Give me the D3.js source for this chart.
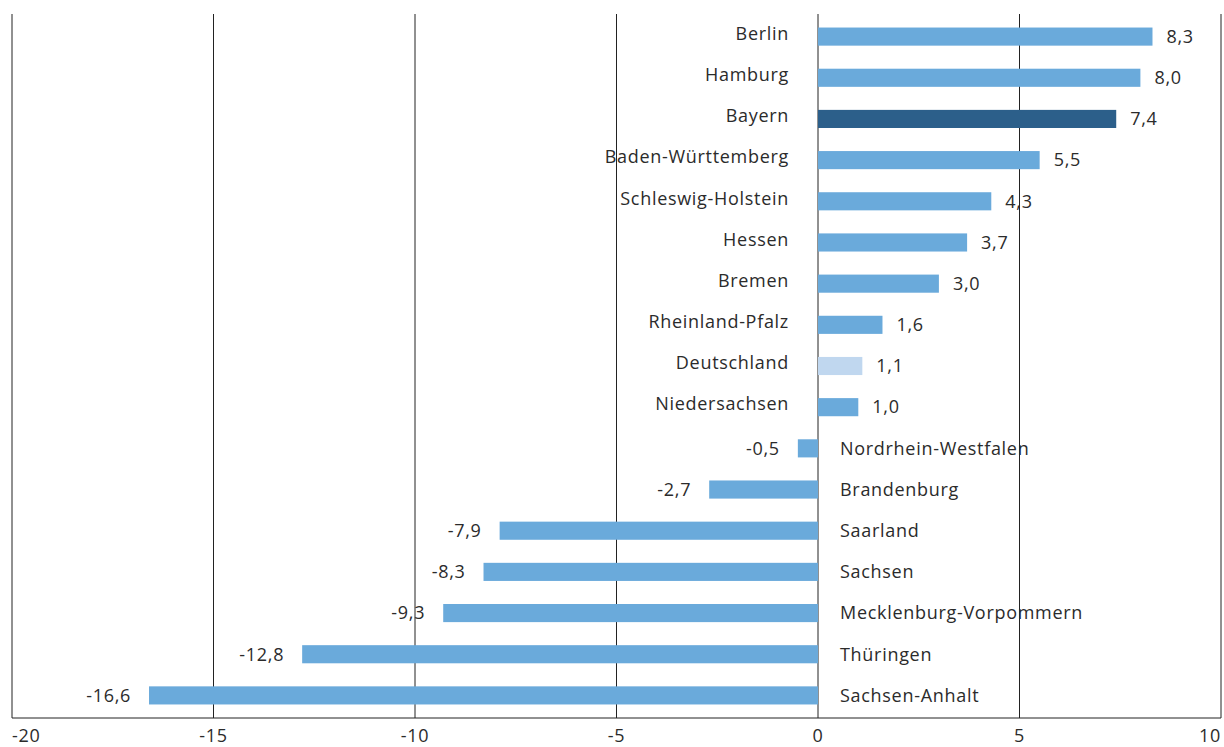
<!DOCTYPE html>
<html>
<head>
<meta charset="utf-8">
<script src="https://cdn.jsdelivr.net/npm/d3@7"></script>
<style>
  body { margin: 0; background: #fff; }
  text { font-family: "Open Sans", Lato, sans-serif; fill: #2b2b2b; letter-spacing: 0.7px; }
</style>
</head>
<body>
<div id="chart"></div>
<script>
// data
var laender = ["Berlin", "Hamburg", "Bayern", "Baden-Württemberg", "Schleswig-Holstein", "Hessen",
  "Bremen", "Rheinland-Pfalz", "Deutschland", "Niedersachsen", "Nordrhein-Westfalen", "Brandenburg",
  "Saarland", "Sachsen", "Mecklenburg-Vorpommern", "Thüringen", "Sachsen-Anhalt"];
var werte = [8.3, 8.0, 7.4, 5.5, 4.3, 3.7, 3.0, 1.6, 1.1, 1.0, -0.5, -2.7, -7.9, -8.3, -9.3, -12.8, -16.6];
var xTicks = [-20, -15, -10, -5, 0, 5, 10];

var width = 1224, height = 747;
var margin = {top: 14, right: 3, bottom: 29, left: 12};

var svg = d3.select("#chart")
  .append("svg")
    .attr("width", width)
    .attr("height", height);

var x = d3.scaleLinear()
  .domain([-20, 10])
  .range([margin.left, width - margin.right]);

var y = d3.scaleBand()
  .domain(laender)
  .range([margin.top + 2, height - margin.bottom - 2])
  .paddingInner(0.56)
  .paddingOuter(0.28);

function farbe(d) {
  if (d === "Bayern") return "#2c5f8a";
  if (d === "Deutschland") return "#c0d7ef";
  return "#6aaadb";
}

// vertical grid lines
svg.append("g")
  .selectAll("line")
  .data(xTicks)
  .join("line")
    .attr("x1", d => x(d)).attr("x2", d => x(d))
    .attr("y1", margin.top).attr("y2", height - margin.bottom)
    .attr("stroke", "#222")
    .attr("stroke-width", 1);

// bottom axis line
svg.append("line")
  .attr("x1", x(-20)).attr("x2", x(10))
  .attr("y1", height - margin.bottom).attr("y2", height - margin.bottom)
  .attr("stroke", "#222");

// tick labels
svg.append("g")
  .selectAll("text")
  .data(xTicks)
  .join("text")
    .attr("x", d => x(d))
    .attr("y", height - 5)
    .attr("text-anchor", (d, i) => i === 0 ? "start" : (i === xTicks.length - 1 ? "end" : "middle"))
    .style("font-size", "18px")
    .text(d => d);

// bars
svg.append("g")
  .selectAll("rect")
  .data(laender)
  .join("rect")
    .attr("x", (d, i) => x(Math.min(0, werte[i])))
    .attr("y", d => y(d))
    .attr("width", (d, i) => Math.abs(x(werte[i]) - x(0)))
    .attr("height", y.bandwidth())
    .attr("fill", d => farbe(d));

// category labels
svg.append("g")
  .selectAll("text")
  .data(laender)
  .join("text")
    .attr("x", (d, i) => werte[i] >= 0 ? x(0) - 29 : x(0) + 22)
    .attr("y", (d, i) => y(d) + y.bandwidth() / 2 + (werte[i] >= 0 ? -3 : 0))
    .attr("dy", "0.35em")
    .attr("text-anchor", (d, i) => werte[i] >= 0 ? "end" : "start")
    .style("font-size", "18px")
    .text(d => d);

// value labels
svg.append("g")
  .selectAll("text")
  .data(laender)
  .join("text")
    .attr("x", (d, i) => werte[i] >= 0 ? x(werte[i]) + 14 : x(werte[i]) - 18)
    .attr("y", d => y(d) + y.bandwidth() / 2)
    .attr("dy", "0.35em")
    .attr("text-anchor", (d, i) => werte[i] >= 0 ? "start" : "end")
    .style("font-size", "18px")
    .text((d, i) => d3.format(".1f")(werte[i]).replace(".", ",").replace("−", "-"));
</script>
</body>
</html>
